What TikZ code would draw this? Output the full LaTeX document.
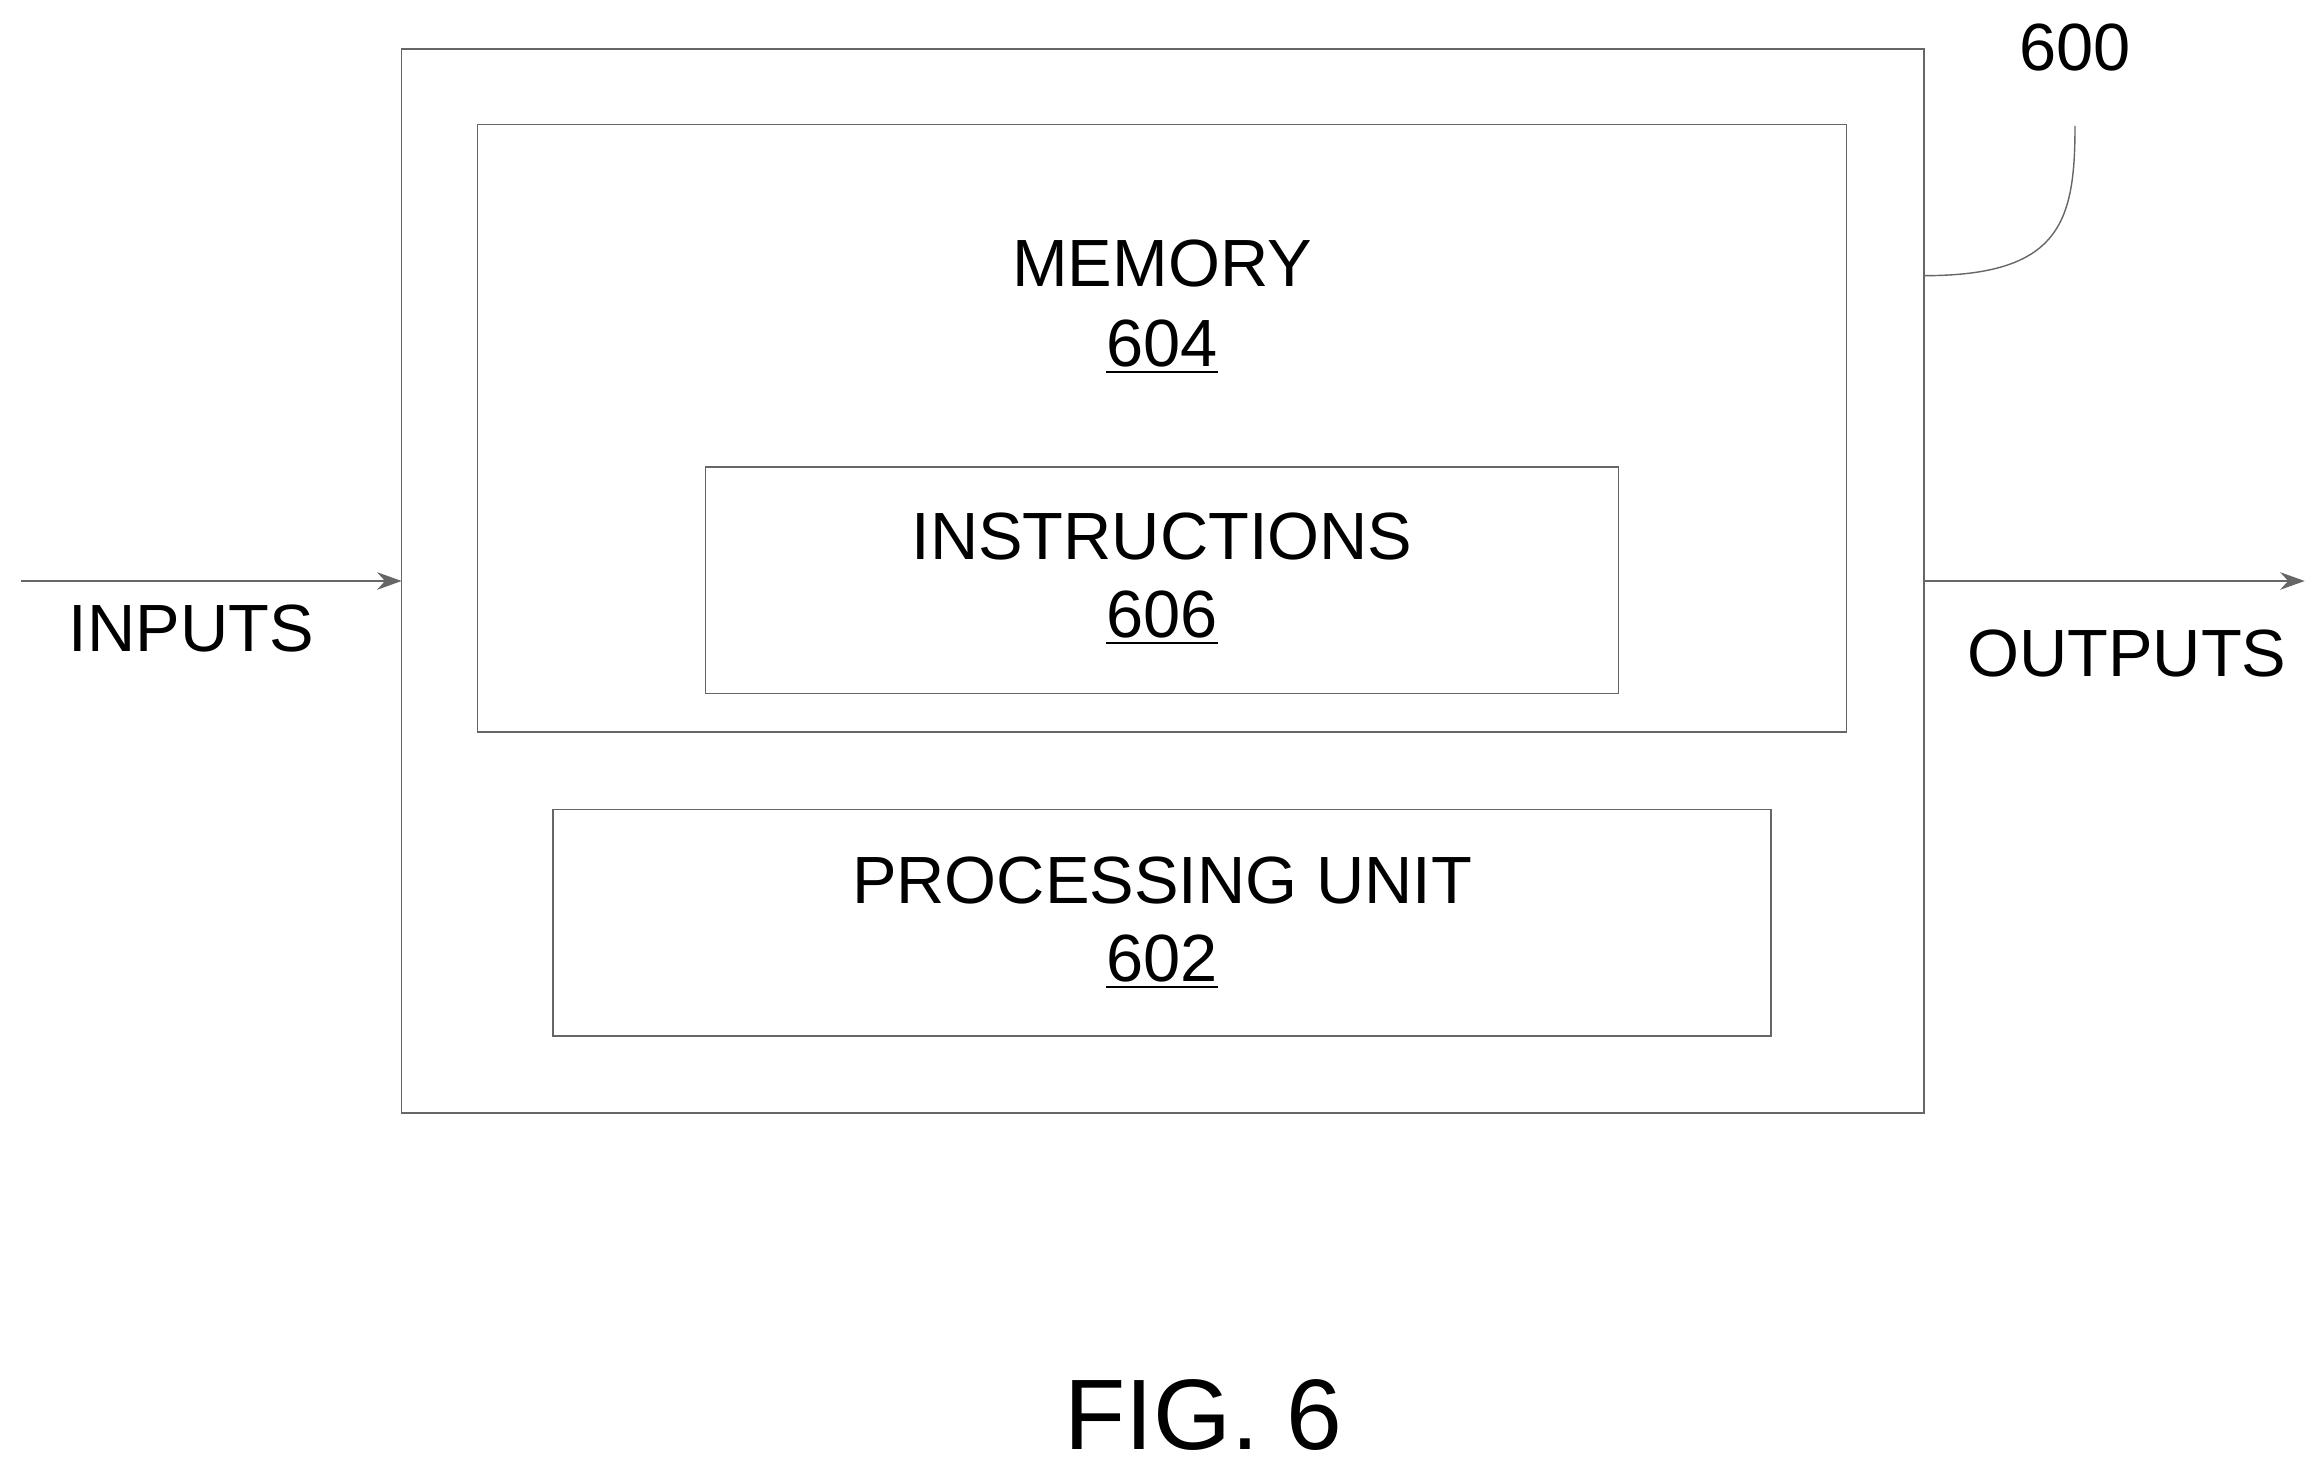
\documentclass[tikz,border=0pt]{standalone}
\usepackage{fontspec}
\setmainfont{Liberation Sans}
\usetikzlibrary{arrows.meta}
\begin{document}
\begin{tikzpicture}[x=0.01482cm,y=-0.01482cm,
  box/.style={draw=black!60,line width=0.4pt},
  lbl/.style={font=\fontsize{19}{22}\selectfont,inner sep=0pt},
  arr/.style={draw=black!60,line width=0.4pt,-{Stealth[length=7pt,width=5pt]}}]
\useasboundingbox (0,0) rectangle (1568,994);
\draw[box] (271,33) rectangle (1298,751);
\coordinate (outL) at (271,392); \coordinate (outR) at (1298,392);
\draw[box] (322,84) rectangle (1246,494);
\draw[box] (476,315) rectangle (1092,468);
\draw[box] (373,546) rectangle (1195,699);
\node[lbl] (mem) at (784,178) {MEMORY};
\node[lbl] (mn) at (784,234) {\underline{604}};
\node[lbl] (ins) at (784,362) {INSTRUCTIONS};
\node[lbl] (in) at (784,417) {\underline{606}};
\node[lbl] (pu) at (784,594) {PROCESSING UNIT};
\node[lbl] (pn) at (784,649) {\underline{602}};
\coordinate (inS) at (14,392);
\coordinate (outE) at (1555,392);
\draw[arr] (inS) -- (outL);
\draw[arr] (outR) -- (outE);
\node[lbl] (inputs) at (129,424) {INPUTS};
\node[lbl] (outputs) at (1435,441) {OUTPUTS};
\node[lbl] (ref) at (1400,32) {600};
\coordinate (la) at (1298,186);
\coordinate (lb) at (1400,85);
\draw[box] (la) .. controls (1390,186) and (1400,150) .. (lb);
\node[inner sep=0pt,font=\fontsize{28.5}{32}\selectfont] (fig) at (812,955) {FIG. 6};
\end{tikzpicture}
\end{document}
